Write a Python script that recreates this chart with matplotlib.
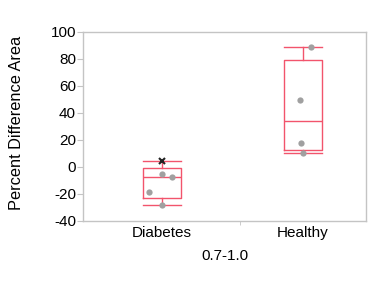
import numpy as np
import matplotlib
matplotlib.use('Agg')
import matplotlib.pyplot as plt

plt.rcParams['font.family'] = ['Liberation Sans', 'DejaVu Sans']

# Data
categories = ['Diabetes', 'Healthy']
diabetes_vals = [4.0, -5.0, -7.4, -18.5, -28.0]
healthy_vals = [88.8, 49.8, 17.9, 10.5]
# horizontal jitter of each dot (category units)
diabetes_jitter = [0.0, 0.0, 0.07, -0.09, 0.0]
healthy_jitter = [0.06, -0.02, -0.01, 0.0]
# which points are drawn as an "x" marker
diabetes_xmark = [True, False, False, False, False]
healthy_xmark = [False, False, False, False]

xlabel = '0.7-1.0'
ylabel = 'Percent Difference Area'
yticks = [-40, -20, 0, 20, 40, 60, 80, 100]

box_color = '#f2546c'
dot_color = '#a0a0a0'
spine_color = '#c4c4c4'


def box_stats(vals):
    v = np.array(vals)
    q1, med, q3 = np.percentile(v, [25, 50, 75], method='weibull')
    return dict(med=med, q1=q1, q3=q3, whislo=v.min(), whishi=v.max(), fliers=[])


fig = plt.figure(figsize=(3.79, 2.85), dpi=100)
ax = fig.add_axes([0.219, 0.225, 0.747, 0.663])

groups = [(diabetes_vals, diabetes_jitter, diabetes_xmark),
          (healthy_vals, healthy_jitter, healthy_xmark)]

stats = [box_stats(g[0]) for g in groups]
ax.bxp(stats, positions=[0, 1], widths=0.27, showfliers=False,
       boxprops=dict(color=box_color, linewidth=1.0),
       medianprops=dict(color=box_color, linewidth=1.0),
       whiskerprops=dict(color=box_color, linewidth=1.0),
       capprops=dict(color=box_color, linewidth=1.0),
       capwidths=0.27)

for i, (vals, jit, xm) in enumerate(groups):
    for v, j, m in zip(vals, jit, xm):
        if m:
            ax.plot(i + j, v, marker='x', color='#222222', markersize=5,
                    markeredgewidth=1.5, zorder=5)
        else:
            ax.plot(i + j, v, marker='o', color=dot_color, markersize=4.5,
                    markeredgewidth=0, zorder=5)

ax.set_xlim(-0.56, 1.45)
ax.set_ylim(-40, 100)
ax.set_yticks(yticks)
ax.set_yticklabels([str(t) for t in yticks], fontsize=11)

ax.set_xticks([0, 1])
ax.set_xticklabels(categories, fontsize=11)
ax.tick_params(axis='x', length=0, pad=4)
ax.set_xticks([0.553], minor=True)
ax.tick_params(axis='x', which='minor', length=3, color=spine_color)
ax.tick_params(axis='y', length=4, color=spine_color, pad=1)

for s in ax.spines.values():
    s.set_color(spine_color)
    s.set_linewidth(1.0)

ax.set_xlabel(xlabel, fontsize=11, labelpad=6)
ax.set_ylabel(ylabel, fontsize=11.8)
ax.yaxis.set_label_coords(-0.21, 0.52)

fig.savefig('out.png', dpi=100)
